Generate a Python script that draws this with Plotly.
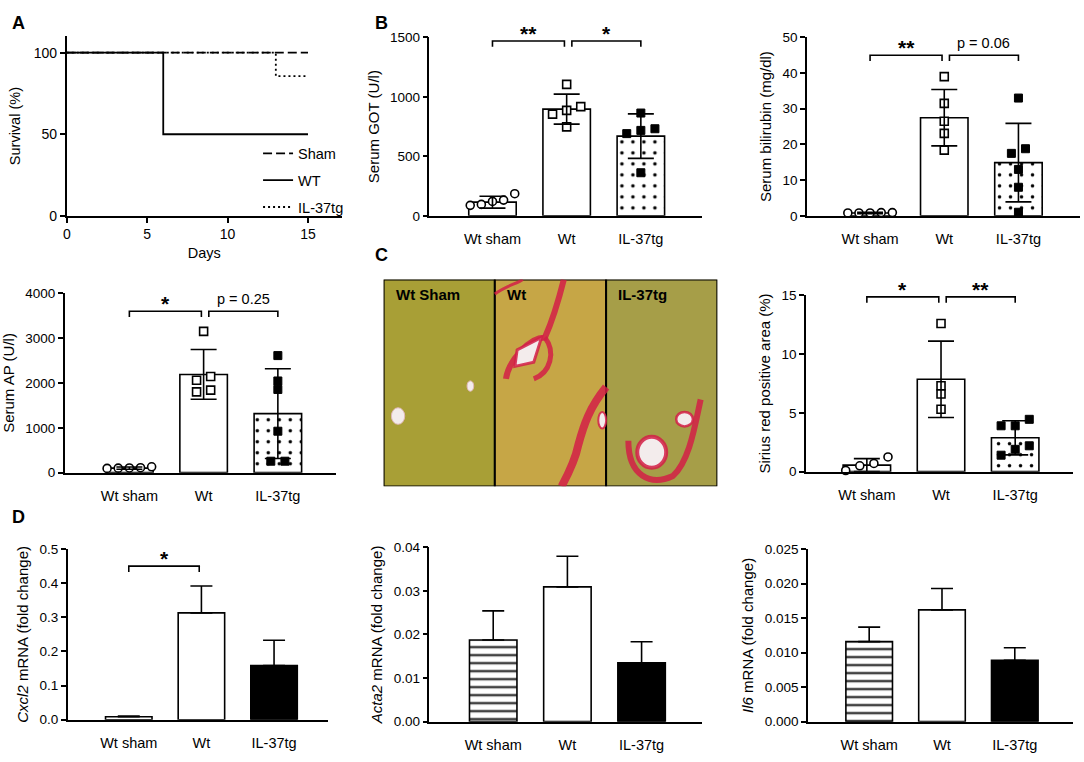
import plotly.graph_objects as go

W, H = 1084, 762
FONT = "Liberation Sans, Arial, sans-serif"
GROUPS = ["Wt sham", "Wt", "IL-37tg"]

# A - survival (Kaplan-Meier steps)
SHAM_DAYS = [0, 15]
SHAM_SURV = [100, 100]
WT_DAYS = [0, 6, 15]
WT_SURV = [100, 50, 50]
IL37_DAYS = [0, 13, 15]
IL37_SURV = [100, 85.7, 85.7]

# B - serum GOT (mean, SD, single animals)
GOT_MEAN = [115, 897, 670]
GOT_SD = [50, 126, 187]
GOT_POINTS = [[96, 132, 186, 88, 121], [1105, 918, 855, 886, 748], [864, 732, 691, 718, 362]]
GOT_SIG = [(0, 1, 1470, "**"), (1, 2, 1470, "*")]

# B - serum bilirubin
BILI_MEAN = [0.8, 27.5, 14.9]
BILI_SD = [0.2, 7.9, 11.0]
BILI_POINTS = [[0.9, 0.8, 0.8, 0.8, 0.9], [39.0, 31.5, 26.5, 23.1, 18.4], [33.0, 18.8, 17.5, 13.0, 8.0, 1.0]]
BILI_SIG = [(0, 1, 45.0, "**"), (1, 2, 45.0, "p = 0.06")]

# serum AP
AP_MEAN = [100, 2190, 1316]
AP_SD = [25, 555, 1000]
AP_POINTS = [[110, 130, 95, 100, 105], [3150, 2145, 2060, 1840, 1800], [2610, 2044, 1855, 924, 255, 255]]
AP_SIG = [(0, 1, 3600, "*"), (1, 2, 3600, "p = 0.25")]

# C - sirius red positive area
SIRIUS_MEAN = [0.56, 7.85, 2.88]
SIRIUS_SD = [0.55, 3.25, 1.45]
SIRIUS_POINTS = [[0.1, 0.7, 0.5, 1.25], [12.6, 7.3, 6.6, 5.3], [4.45, 3.9, 3.9, 2.2, 1.9, 1.4]]
SIRIUS_SIG = [(0, 1, 14.86, "*"), (1, 2, 14.86, "**")]
HISTO_LABELS = ["Wt Sham", "Wt", "IL-37tg"]

# D - mRNA expression (mean + SEM)
CXCL2_MEAN = [0.0085, 0.313, 0.159]
CXCL2_SEM = [0.0025, 0.079, 0.074]
CXCL2_SIG = [(0, 1, 0.45, "*")]
ACTA2_MEAN = [0.0187, 0.0309, 0.0135]
ACTA2_SEM = [0.0067, 0.0070, 0.0048]
IL6_MEAN = [0.0116, 0.0162, 0.0089]
IL6_SEM = [0.0021, 0.0031, 0.0018]

# plot boxes in pixels: left, right, top (range max), bottom (zero)
BOX = {
    1: (63, 339, 30, 213),
    2: (427, 701, 31, 213),
    3: (806, 1080, 31, 213),
    4: (61, 333, 292, 475),
    5: (381, 716, 278, 489),
    6: (805, 1073, 294, 474),
    7: (64, 325, 553, 727),
    8: (427, 701, 551, 729),
    9: (807, 1073, 553, 729),
}
MARKERS = [
    dict(symbol="circle", size=8, color="white", line=dict(color="black", width=1.6)),
    dict(symbol="square", size=8, color="white", line=dict(color="black", width=1.6)),
    dict(symbol="square", size=8, color="black", line=dict(color="black", width=1)),
]
TICK_SIZE = 13.5
LABEL_SIZE = 14.5
TITLE_SIZE = 15

fig = go.Figure()


def refs(n):
    return ("x", "y") if n == 1 else (f"x{n}", f"y{n}")


def set_axes(n, xr, yr, xaxis_extra, yaxis_extra):
    x0, x1, yt, yb = BOX[n]
    xs, ys = refs(n)
    base = dict(showline=True, linecolor="black", linewidth=1.6, showgrid=False, zeroline=False,
                tickfont=dict(size=TICK_SIZE, color="black", family=FONT))
    xa = dict(base, domain=[x0 / W, x1 / W], range=xr, anchor=ys)
    xa.update(xaxis_extra)
    ya = dict(base, domain=[1 - yb / H, 1 - yt / H], range=yr, anchor=xs,
              ticks="outside", ticklen=5, tickwidth=1.6, tickcolor="black")
    ya.update(yaxis_extra)
    key = "" if n == 1 else str(n)
    fig.update_layout(**{"xaxis" + key: xa, "yaxis" + key: ya})


def swarm(values, center, units_per_px, marker_px=8.0):
    # GraphPad-like: points closer than a marker are put side by side
    thresh = marker_px * units_per_px
    order = sorted(range(len(values)), key=lambda k: values[k])
    clusters, cur = [], [order[0]]
    for k in order[1:]:
        if values[k] - values[cur[-1]] < thresh:
            cur.append(k)
        else:
            clusters.append(cur)
            cur = [k]
    clusters.append(cur)
    xs = [center] * len(values)
    for cl in clusters:
        n = len(cl)
        step = min(0.19, 0.6 / (n - 1)) if n > 1 else 0
        for i, k in enumerate(cl):
            xs[k] = center + (i - (n - 1) / 2) * step
    return xs


def brackets(n, sig, ymax):
    xs, ys = refs(n)
    x0, x1, yt, yb = BOX[n]
    drop = 6 * ymax / (yb - yt)
    for i, j, level, label in sig:
        a = i + (0.07 if i == 1 else 0)
        b = j - (0.03 if j == 1 else 0)
        fig.add_trace(go.Scatter(x=[a, a, b, b], y=[level - drop, level, level, level - drop],
                                 mode="lines", line=dict(color="black", width=1.6),
                                 xaxis=xs, yaxis=ys, cliponaxis=False, showlegend=False, hoverinfo="skip"))
        if label.startswith("*"):
            fig.add_annotation(x=(a + b) / 2, y=level, xref=xs, yref=ys, text="<b>%s</b>" % label,
                               showarrow=False, yanchor="bottom", yshift=-6,
                               font=dict(size=21, color="black"))
        else:
            fig.add_annotation(x=(a + b) / 2, y=level, xref=xs, yref=ys, text=label, showarrow=False,
                               yanchor="bottom", yshift=2, font=dict(size=LABEL_SIZE, color="black"))


def group_axes(n, xr, ymax, dtick, fmt, title):
    set_axes(n, xr, [0, ymax],
             dict(tickvals=list(range(len(GROUPS))), ticktext=GROUPS, ticks="", ticklabelstandoff=9,
                  tickfont=dict(size=LABEL_SIZE, color="black", family=FONT)),
             dict(dtick=dtick, tickformat=fmt, title=dict(text=title, font=dict(size=TITLE_SIZE), standoff=7)))


def dot_panel(n, xr, ymax, dtick, title, means, sds, points, sig):
    xs, ys = refs(n)
    x0, x1, yt, yb = BOX[n]
    idx = list(range(len(GROUPS)))
    fig.add_trace(go.Bar(x=idx, y=means, width=0.64, xaxis=xs, yaxis=ys, showlegend=False, hoverinfo="skip",
                         marker=dict(color="white", line=dict(color="black", width=1.6),
                                     pattern=dict(shape=["", "", "."], fgcolor="black", bgcolor="white",
                                                  fgopacity=1, size=11, solidity=0.08))))
    upp = ymax / (yb - yt)
    for g, vals in enumerate(points):
        fig.add_trace(go.Scatter(x=swarm(vals, g, upp), y=vals, mode="markers", marker=MARKERS[g],
                                 xaxis=xs, yaxis=ys, cliponaxis=False, showlegend=False, hoverinfo="skip"))
    fig.add_trace(go.Scatter(x=idx, y=means, mode="markers", marker=dict(size=1, color="rgba(0,0,0,0)"),
                             error_y=dict(type="data", array=sds, color="black", thickness=1.6, width=13),
                             xaxis=xs, yaxis=ys, showlegend=False, hoverinfo="skip"))
    brackets(n, sig, ymax)
    group_axes(n, xr, ymax, dtick, None, title)


def mrna_panel(n, xr, ymax, dtick, fmt, title, means, sems, sig=()):
    xs, ys = refs(n)
    idx = list(range(len(GROUPS)))
    fig.add_trace(go.Bar(x=idx, y=means, width=0.64, xaxis=xs, yaxis=ys, showlegend=False, hoverinfo="skip",
                         marker=dict(color=["white", "white", "black"], line=dict(color="black", width=1.6),
                                     pattern=dict(shape=["-", "", ""], fgcolor="black", bgcolor="white",
                                                  fgopacity=1, size=8, solidity=0.32)),
                         error_y=dict(type="data", symmetric=False, array=sems, arrayminus=[0] * len(sems),
                                      color="black", thickness=1.6, width=11)))
    brackets(n, sig, ymax)
    group_axes(n, xr, ymax, dtick, fmt, title)


# ---- A: survival
for name, days, surv, dash, rank in [("IL-37tg", IL37_DAYS, IL37_SURV, "2px,3px", 3),
                                     ("Sham", SHAM_DAYS, SHAM_SURV, "9px,4px", 1),
                                     ("WT", WT_DAYS, WT_SURV, "solid", 2)]:
    fig.add_trace(go.Scatter(x=days, y=surv, mode="lines", name=name, legendrank=rank, legendgroup=name,
                             line=dict(color="black", width=1.8, dash=dash, shape="hv"),
                             cliponaxis=False, hoverinfo="skip"))
set_axes(1, [0, 17.1], [0, 110],
         dict(tickvals=[0, 5, 10, 15], ticks="outside", ticklen=5, tickwidth=1.6, tickcolor="black",
              tickfont=dict(size=14, color="black", family=FONT),
              title=dict(text="Days", font=dict(size=LABEL_SIZE), standoff=6)),
         dict(tickvals=[0, 50, 100], tickfont=dict(size=14, color="black", family=FONT),
              title=dict(text="Survival (%)", font=dict(size=LABEL_SIZE), standoff=10)))

# ---- B, AP, C, D
dot_panel(2, [-0.85, 2.83], 1500, 500, "Serum GOT (U/l)", GOT_MEAN, GOT_SD, GOT_POINTS, GOT_SIG)
dot_panel(3, [-0.85, 2.83], 50, 10, "Serum bilirubin (mg/dl)", BILI_MEAN, BILI_SD, BILI_POINTS, BILI_SIG)
dot_panel(4, [-0.87, 2.78], 4000, 1000, "Serum AP (U/l)", AP_MEAN, AP_SD, AP_POINTS, AP_SIG)
dot_panel(6, [-0.82, 2.78], 15, 5, "Sirius red positive area (%)", SIRIUS_MEAN, SIRIUS_SD, SIRIUS_POINTS, SIRIUS_SIG)
mrna_panel(7, [-0.84, 2.74], 0.5, 0.1, ".1f", "<i>Cxcl2</i> mRNA (fold change)", CXCL2_MEAN, CXCL2_SEM, CXCL2_SIG)
mrna_panel(8, [-0.86, 2.82], 0.04, 0.01, ".2f", "<i>Acta2</i> mRNA (fold change)", ACTA2_MEAN, ACTA2_SEM)
mrna_panel(9, [-0.84, 2.80], 0.025, 0.005, ".3f", "<i>Il6</i> mRNA (fold change)", IL6_MEAN, IL6_SEM)

# ---- C: histology stand-in (sirius red stained liver sections)
set_axes(5, [0, 3], [0, 1], dict(visible=False), dict(visible=False))
tissue = ["#a89f36", "#c6a646", "#a69e48"]
for k, col in enumerate(tissue):
    fig.add_shape(type="rect", xref="x5", yref="y5", x0=k, x1=k + 1, y0=0, y1=1,
                  fillcolor=col, line=dict(color="black", width=2))
red = "rgba(210,30,70,0.85)"
pale = "#f3ecec"
deco = [
    dict(type="circle", x0=0.07, x1=0.19, y0=0.30, y1=0.38, fillcolor=pale, line=dict(color="#e0b8b8", width=1)),
    dict(type="circle", x0=0.75, x1=0.81, y0=0.46, y1=0.51, fillcolor=pale, line=dict(color="#e0b8b8", width=1)),
    dict(type="path", path="M 1.0,0.93 C 1.1,0.97 1.2,0.98 1.25,1.0", line=dict(color=red, width=3)),
    dict(type="path", path="M 1.62,1 C 1.55,0.85 1.5,0.78 1.45,0.72 C 1.3,0.72 1.12,0.6 1.1,0.52",
         line=dict(color=red, width=6)),
    dict(type="path", path="M 1.45,0.72 C 1.55,0.65 1.5,0.55 1.35,0.52", line=dict(color=red, width=5)),
    dict(type="path", path="M 2.0,0.48 C 1.85,0.38 1.8,0.3 1.75,0.2 C 1.72,0.12 1.65,0.05 1.6,0.0",
         line=dict(color=red, width=8)),
    dict(type="path", path="M 1.2,0.66 L 1.42,0.72 L 1.35,0.6 L 1.18,0.58 Z", fillcolor=pale,
         line=dict(color=red, width=3)),
    dict(type="circle", x0=1.93, x1=2.0, y0=0.28, y1=0.36, fillcolor=pale, line=dict(color=red, width=2)),
    dict(type="path", path="M 2.2,0.22 C 2.2,0.05 2.4,0.0 2.6,0.05 C 2.75,0.12 2.8,0.3 2.85,0.42",
         line=dict(color=red, width=6)),
    dict(type="circle", x0=2.28, x1=2.54, y0=0.09, y1=0.24, fillcolor=pale, line=dict(color=red, width=4)),
    dict(type="circle", x0=2.63, x1=2.78, y0=0.29, y1=0.36, fillcolor=pale, line=dict(color=red, width=2.5)),
]
for s in deco:
    fig.add_shape(xref="x5", yref="y5", **s)
for k, lab in enumerate(HISTO_LABELS):
    fig.add_annotation(x=k + 0.09, y=0.98, xref="x5", yref="y5", text="<b>%s</b>" % lab, showarrow=False,
                       xanchor="left", yanchor="top", font=dict(size=15, color="black"))

# panel letters
for letter, px, py in [("A", 15, 16), ("B", 379, 16), ("C", 379, 253), ("D", 15, 520)]:
    fig.add_annotation(x=px / W, y=1 - py / H, xref="paper", yref="paper", text="<b>%s</b>" % letter,
                       showarrow=False, xanchor="center", yanchor="middle", font=dict(size=18, color="black"))

fig.update_layout(
    width=W, height=H, autosize=False,
    margin=dict(l=0, r=0, t=0, b=0),
    plot_bgcolor="white", paper_bgcolor="white",
    font=dict(family=FONT, color="black", size=13),
    legend=dict(x=255 / W, y=1 - 133 / H, xanchor="left", yanchor="top", bgcolor="rgba(0,0,0,0)",
                font=dict(size=LABEL_SIZE), tracegroupgap=5, itemwidth=30),
)

fig.write_html("out.html", config={"displayModeBar": False},
               post_script="document.body.style.margin='0';")
